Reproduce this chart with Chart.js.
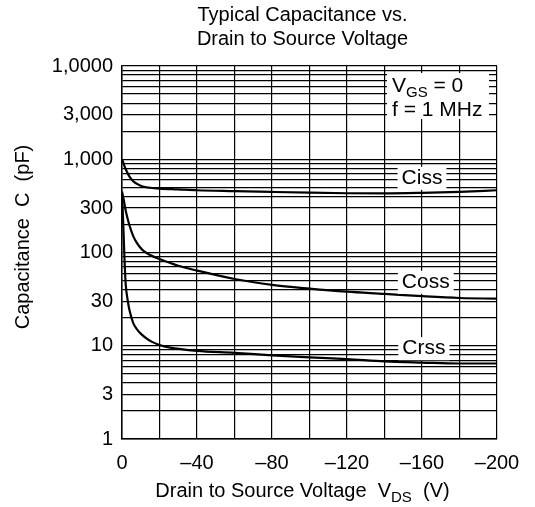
<!DOCTYPE html>
<html>
<head>
<meta charset="utf-8">
<script src="https://cdn.jsdelivr.net/npm/chart.js@4.4.1/dist/chart.umd.min.js"></script>
<style>
  html, body { margin: 0; padding: 0; background: #fff; }
  #wrap { width: 535px; height: 507px; }
</style>
</head>
<body>
<div id="wrap"><canvas id="capChart" width="535" height="507"></canvas></div>
<script>
// Drain-source voltage (V) and capacitance (pF)
const cissV = [0, -1, -2, -4, -6, -8, -11, -15, -20, -30, -40, -60, -80, -100, -120, -140, -160, -180, -200];
const cissC = [1000, 880, 780, 650, 580, 545, 510, 495, 485, 475, 465, 455, 446, 438, 432, 430, 436, 447, 465];

const cossV = [0, -1, -2, -3, -4, -6, -8, -11, -15, -20, -30, -40, -60, -80, -100, -120, -140, -160, -180, -200];
const cossC = [450, 360, 280, 230, 195, 150, 126, 106, 94, 85, 72, 64, 52, 45, 41, 38, 36, 34, 32.5, 32];

const crssV = [0, -0.5, -1, -1.5, -2, -3, -4, -6, -8, -10, -13, -16, -20, -25, -40, -60, -80, -100, -120, -140, -160, -180, -200];
const crssC = [420, 250, 130, 70, 45, 31, 24, 17.5, 15, 13.5, 12, 11, 10.2, 9.6, 8.8, 8.4, 7.9, 7.5, 7.2, 6.8, 6.6, 6.45, 6.45];

const xTicks = [0, -20, -40, -60, -80, -100, -120, -140, -160, -180, -200];
const yLabels = { 1: '1', 3: '3', 10: '10', 30: '30', 100: '100', 300: '300', 1000: '1,000', 3000: '3,000', 10000: '1,0000' };

// curve name labels, placed in data coords
const curveNames = ['Ciss', 'Coss', 'Crss'];
const nameV = [-160, -162, -161];
const nameC = [625, 48, 9.3];

const FONT = '"Liberation Sans", Arial, sans-serif';

function toPoints(xs, ys) {
    return xs.map((x, i) => ({ x: x, y: ys[i] }));
}

function boxedText(ctx, text, cx, cy, size) {
    ctx.font = size + 'px ' + FONT;
    const w = ctx.measureText(text).width;
    ctx.fillStyle = '#fff';
    ctx.fillRect(cx - w / 2 - 4, cy - size * 0.55, w + 8, size * 1.1);
    ctx.fillStyle = '#000';
    ctx.textAlign = 'center';
    ctx.textBaseline = 'middle';
    ctx.fillText(text, cx, cy);
}

const textPlugin = {
    id: 'textPlugin',
    afterDraw(chart) {
        const ctx = chart.ctx;
        const area = chart.chartArea;
        const xs = chart.scales.x;
        const ys = chart.scales.y;
        ctx.save();

        // curve names with white boxes
        curveNames.forEach((name, i) => {
            boxedText(ctx, name, xs.getPixelForValue(nameV[i]), ys.getPixelForValue(nameC[i]), 21);
        });

        // conditions box
        const bx = area.right - 110, by = area.top + 7;
        ctx.fillStyle = '#fff';
        ctx.fillRect(bx, by, 102, 46);
        ctx.fillStyle = '#000';
        ctx.textAlign = 'left';
        ctx.textBaseline = 'alphabetic';
        ctx.font = '21px ' + FONT;
        ctx.fillText('V', bx + 5, by + 19);
        let w = ctx.measureText('V').width;
        ctx.font = '15px ' + FONT;
        ctx.fillText('GS', bx + 5 + w, by + 24);
        w += ctx.measureText('GS').width;
        ctx.font = '21px ' + FONT;
        ctx.fillText(' = 0', bx + 5 + w, by + 19);
        ctx.fillText('f = 1 MHz', bx + 5, by + 43);

        // title
        const mid = (area.left + area.right) / 2 - 7;
        ctx.textAlign = 'center';
        ctx.font = '20px ' + FONT;
        ctx.fillText('Typical Capacitance vs.', mid, 21);
        ctx.fillText('Drain to Source Voltage', mid, 45);

        // x axis title with subscript
        const p1 = 'Drain to Source Voltage  V', p2 = 'DS', p3 = '  (V)';
        ctx.font = '20px ' + FONT;
        const w1 = ctx.measureText(p1).width, w3 = ctx.measureText(p3).width;
        ctx.font = '15px ' + FONT;
        const w2 = ctx.measureText(p2).width;
        let x0 = mid - (w1 + w2 + w3) / 2;
        const base = area.bottom + 58;
        ctx.textAlign = 'left';
        ctx.font = '20px ' + FONT;
        ctx.fillText(p1, x0, base);
        ctx.font = '15px ' + FONT;
        ctx.fillText(p2, x0 + w1, base + 5);
        ctx.font = '20px ' + FONT;
        ctx.fillText(p3, x0 + w1 + w2, base);

        // y axis title
        ctx.translate(29, area.top + 171);
        ctx.rotate(-Math.PI / 2);
        ctx.textAlign = 'center';
        ctx.fillText('Capacitance  C  (pF)', 0, 0);
        ctx.restore();
    }
};

const lineStyle = {
    borderColor: '#000',
    borderWidth: 2.2,
    pointRadius: 0,
    fill: false,
    cubicInterpolationMode: 'monotone'
};

const ctx = document.getElementById('capChart').getContext('2d');
new Chart(ctx, {
    type: 'line',
    data: {
        datasets: [
            Object.assign({ label: 'Ciss', data: toPoints(cissV, cissC) }, lineStyle),
            Object.assign({ label: 'Coss', data: toPoints(cossV, cossC) }, lineStyle),
            Object.assign({ label: 'Crss', data: toPoints(crssV, crssC) }, lineStyle)
        ]
    },
    options: {
        responsive: false,
        animation: false,
        layout: { padding: { left: 0, right: 38, top: 66, bottom: 0 } },
        plugins: {
            legend: { display: false },
            title: { display: false },
            tooltip: { enabled: false }
        },
        scales: {
            x: {
                type: 'linear',
                min: -200,
                max: 0,
                reverse: true,
                afterFit: s => { s.height = 68; },
                afterBuildTicks: s => { s.ticks = xTicks.map(v => ({ value: v })); },
                ticks: {
                    autoSkip: false,
                    maxRotation: 0,
                    padding: 12,
                    color: '#000',
                    font: { family: FONT, size: 20 },
                    callback: v => (v % 40 !== 0 ? '' : (v === 0 ? '0' : '\u2013' + Math.abs(v)))
                },
                grid: { color: '#000', lineWidth: 1.2, drawTicks: false },
                border: { color: '#000', width: 1.5 }
            },
            y: {
                type: 'logarithmic',
                min: 1,
                max: 10000,
                afterFit: s => { s.width = 122; },
                afterBuildTicks: s => {
                    const t = [];
                    for (let d = 1; d < 10000; d *= 10) {
                        for (let m = 1; m < 10; m++) t.push({ value: m * d });
                    }
                    t.push({ value: 10000 });
                    s.ticks = t;
                },
                ticks: {
                    autoSkip: false,
                    padding: 9,
                    color: '#000',
                    font: { family: FONT, size: 20 },
                    callback: v => yLabels[v] || ''
                },
                grid: { color: '#000', lineWidth: 1.2, drawTicks: false },
                border: { color: '#000', width: 1.5 }
            }
        }
    },
    plugins: [textPlugin]
});
</script>
</body>
</html>
